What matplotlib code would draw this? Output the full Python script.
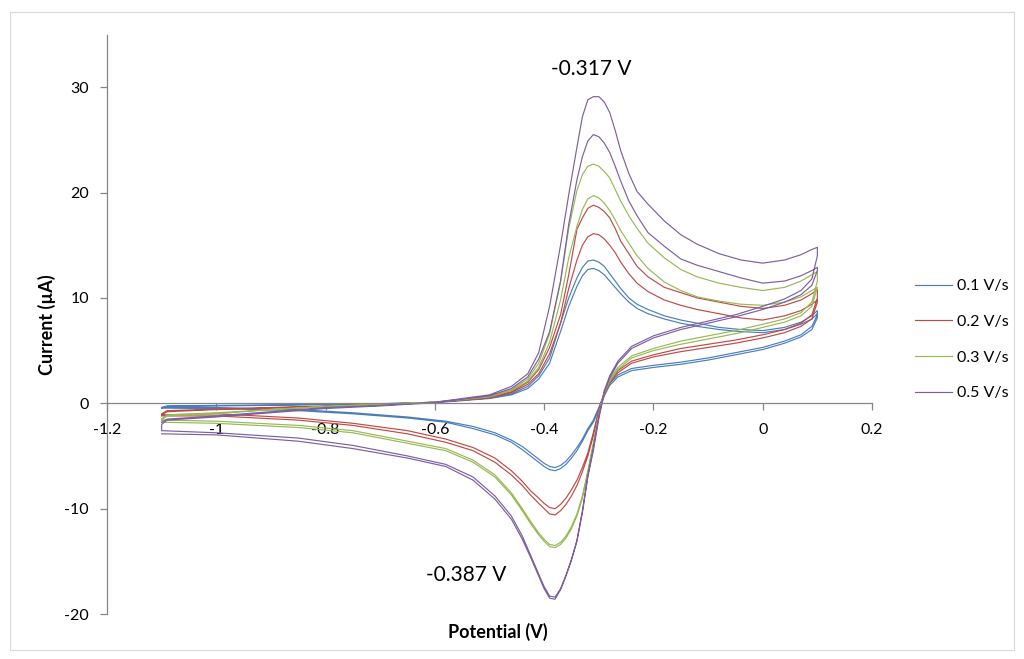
import matplotlib
matplotlib.use("Agg")
import matplotlib.pyplot as plt
from matplotlib.patches import Rectangle
from matplotlib.ticker import FixedLocator, FuncFormatter

plt.rcParams['font.family'] = ['Lato', 'DejaVu Sans']
plt.rcParams['axes.unicode_minus'] = False

# Potential grids (V) for the anodic (forward) and cathodic (reverse) sweeps
E_fwd = [-1.1, -1.09, -1.0, -0.9, -0.8, -0.7, -0.6, -0.5, -0.46, -0.43, -0.41, -0.39,
         -0.37, -0.355, -0.34, -0.33, -0.32, -0.31, -0.30, -0.29, -0.28, -0.27, -0.26,
         -0.245, -0.23, -0.21, -0.18, -0.15, -0.12, -0.08, -0.04, 0.0, 0.04, 0.07, 0.09, 0.1]
E_rev = [0.1, 0.09, 0.07, 0.04, 0.0, -0.05, -0.1, -0.15, -0.2, -0.24, -0.265, -0.28,
         -0.29, -0.30, -0.31, -0.32, -0.33, -0.34, -0.35, -0.36, -0.37, -0.38, -0.39,
         -0.40, -0.41, -0.425, -0.44, -0.46, -0.49, -0.53, -0.58, -0.65, -0.75, -0.85, -1.0, -1.1]

# Current (uA), two cycles per scan rate
fwd_01_a = [-0.4, -0.25, -0.2, -0.15, -0.1, -0.05, 0.1, 0.5, 0.9, 1.6, 2.6, 4.3, 7.6, 10.0, 11.9,
            12.9, 13.5, 13.6, 13.4, 13.0, 12.3, 11.6, 10.9, 10.0, 9.4, 8.9, 8.3, 7.9, 7.6, 7.2,
            7.0, 6.9, 7.2, 7.7, 8.3, 8.8]
rev_01_a = [8.4, 7.3, 6.5, 5.9, 5.3, 4.8, 4.3, 3.9, 3.6, 3.3, 2.7, 1.9, 0.9, -0.4, -1.6, -2.4,
            -3.4, -4.2, -4.9, -5.5, -5.9, -6.1, -6.0, -5.7, -5.3, -4.7, -4.1, -3.5, -2.8, -2.2,
            -1.7, -1.3, -0.9, -0.6, -0.4, -0.4]
fwd_01_b = [-0.45, -0.3, -0.25, -0.2, -0.12, -0.05, 0.05, 0.45, 0.8, 1.4, 2.3, 3.8, 6.8, 9.2, 11.1,
            12.1, 12.7, 12.8, 12.6, 12.2, 11.6, 11.0, 10.4, 9.6, 9.0, 8.5, 8.0, 7.6, 7.3, 7.0,
            6.8, 6.7, 7.0, 7.5, 8.0, 8.5]
rev_01_b = [8.1, 7.0, 6.3, 5.7, 5.1, 4.6, 4.1, 3.7, 3.4, 3.1, 2.5, 1.7, 0.7, -0.6, -1.8, -2.6,
            -3.6, -4.5, -5.2, -5.8, -6.2, -6.4, -6.3, -6.0, -5.6, -5.0, -4.4, -3.7, -3.0, -2.4,
            -1.8, -1.4, -1.0, -0.7, -0.5, -0.45]

fwd_02_a = [-1.1, -0.8, -0.6, -0.45, -0.3, -0.1, 0.1, 0.6, 1.1, 2.0, 3.2, 5.3, 8.4, 12.2, 16.5,
            17.6, 18.5, 18.8, 18.6, 18.2, 17.6, 16.6, 15.4, 14.2, 13.0, 12.0, 11.0, 10.5, 10.0,
            9.6, 9.2, 9.0, 9.3, 9.8, 10.4, 10.8]
rev_02_a = [10.0, 8.4, 7.6, 7.0, 6.5, 6.0, 5.6, 5.2, 4.6, 4.0, 3.1, 2.1, 1.0, -0.6, -2.8, -4.7,
            -6.1, -7.3, -8.2, -9.0, -9.6, -10.0, -9.9, -9.5, -9.0, -8.3, -7.4, -6.4, -5.2, -4.2,
            -3.4, -2.6, -1.9, -1.4, -1.0, -1.1]
fwd_02_b = [-1.0, -0.7, -0.55, -0.4, -0.25, -0.1, 0.1, 0.5, 1.0, 1.8, 2.8, 4.7, 7.6, 10.9, 13.6,
            15.0, 15.8, 16.1, 16.0, 15.6, 15.0, 14.3, 13.4, 12.3, 11.4, 10.6, 9.8, 9.3, 8.9, 8.5,
            8.1, 7.9, 8.3, 8.8, 9.4, 9.8]
rev_02_b = [9.6, 8.0, 7.3, 6.7, 6.2, 5.7, 5.3, 4.9, 4.4, 3.8, 2.9, 1.9, 0.8, -0.9, -3.1, -5.0,
            -6.5, -7.8, -8.8, -9.6, -10.2, -10.6, -10.5, -10.0, -9.5, -8.7, -7.8, -6.8, -5.6,
            -4.5, -3.7, -2.9, -2.1, -1.6, -1.2, -1.2]

fwd_03_a = [-1.6, -1.2, -1.0, -0.6, -0.3, -0.1, 0.1, 0.7, 1.3, 2.3, 3.8, 6.6, 11.5, 16.6, 20.2,
            21.7, 22.5, 22.7, 22.5, 22.0, 21.4, 20.3, 19.2, 17.8, 16.6, 15.2, 13.8, 12.7, 12.0,
            11.4, 11.0, 10.7, 11.0, 11.6, 12.2, 12.5]
rev_03_a = [11.6, 9.6, 8.6, 8.0, 7.5, 6.9, 6.4, 5.9, 5.2, 4.5, 3.4, 2.3, 1.1, -1.0, -3.8, -6.4,
            -8.8, -10.5, -11.7, -12.6, -13.2, -13.5, -13.4, -12.9, -12.3, -11.2, -10.0, -8.5,
            -6.8, -5.4, -4.3, -3.6, -2.6, -2.1, -1.7, -1.6]
fwd_03_b = [-1.5, -1.1, -0.9, -0.6, -0.3, -0.1, 0.1, 0.6, 1.2, 2.1, 3.4, 5.8, 9.8, 13.8, 16.8,
            18.4, 19.4, 19.7, 19.5, 19.0, 18.3, 17.4, 16.4, 15.2, 14.0, 12.8, 11.5, 10.7, 10.1,
            9.7, 9.4, 9.3, 9.6, 10.1, 10.7, 11.0]
rev_03_b = [11.0, 9.2, 8.3, 7.7, 7.2, 6.6, 6.1, 5.6, 5.0, 4.3, 3.2, 2.1, 0.9, -1.2, -4.0, -6.6,
            -9.0, -10.7, -11.9, -12.8, -13.4, -13.7, -13.6, -13.1, -12.5, -11.4, -10.2, -8.7,
            -7.0, -5.6, -4.5, -3.8, -2.8, -2.3, -1.9, -1.8]

fwd_05_a = [-1.8, -1.5, -1.2, -0.8, -0.4, -0.2, 0.1, 0.8, 1.6, 2.8, 4.8, 9.2, 15.0, 19.8, 24.3,
            27.2, 28.8, 29.1, 29.1, 28.6, 27.6, 25.9, 24.0, 21.8, 20.1, 18.9, 17.3, 16.0, 15.1,
            14.2, 13.6, 13.3, 13.6, 14.1, 14.6, 14.8]
rev_05_a = [14.0, 11.8, 10.7, 9.9, 9.2, 8.4, 7.8, 7.2, 6.4, 5.4, 4.0, 2.6, 1.2, -1.2, -4.2, -6.8,
            -10.2, -13.0, -14.8, -16.3, -17.6, -18.4, -18.3, -17.4, -16.2, -14.4, -12.6, -10.7,
            -8.8, -7.0, -5.8, -5.0, -4.0, -3.3, -2.8, -2.6]
fwd_05_b = [-2.0, -1.6, -1.3, -0.9, -0.5, -0.25, 0.05, 0.7, 1.4, 2.5, 4.2, 6.8, 11.6, 17.0, 21.2,
            23.4, 24.9, 25.5, 25.3, 24.7, 23.8, 22.5, 21.1, 19.2, 17.8, 16.2, 14.9, 13.7, 13.1,
            12.5, 11.9, 11.4, 11.6, 12.1, 12.6, 12.9]
rev_05_b = [12.6, 11.2, 10.3, 9.6, 8.9, 8.2, 7.6, 7.0, 6.2, 5.2, 3.8, 2.4, 1.0, -1.5, -4.5, -7.0,
            -10.4, -13.1, -14.9, -16.4, -17.7, -18.6, -18.5, -17.6, -16.4, -14.6, -12.9, -11.0,
            -9.1, -7.3, -6.0, -5.2, -4.3, -3.6, -3.0, -2.9]

scan_rates = ['0.1 V/s', '0.2 V/s', '0.3 V/s', '0.5 V/s']
cycles = [
    (fwd_01_a, rev_01_a, fwd_01_b, rev_01_b),
    (fwd_02_a, rev_02_a, fwd_02_b, rev_02_b),
    (fwd_03_a, rev_03_a, fwd_03_b, rev_03_b),
    (fwd_05_a, rev_05_a, fwd_05_b, rev_05_b),
]
colors = ['#4A7EBB', '#BE4B48', '#98B954', '#7D60A0']

x_ticks = [-1.2, -1.0, -0.8, -0.6, -0.4, -0.2, 0.0, 0.2]
y_ticks = [-20, -10, 0, 10, 20, 30]

peak_ox = (-0.317, '-0.317 V')
peak_red = (-0.387, '-0.387 V')

W, H = 1024, 659
fig = plt.figure(figsize=(W / 100, H / 100), dpi=100, facecolor='white')

# chart-area frame
fig.patches.append(Rectangle((10 / W, 9 / H), 1004 / W, 638 / H, transform=fig.transFigure,
                             fill=False, edgecolor='#d9d9d9', linewidth=0.8))

ax = fig.add_axes([107 / W, 45 / H, 765 / W, 579.5 / H])
ax.set_xlim(-1.2, 0.2)
ax.set_ylim(-20, 35)

for label, color, (fa, ra, fb, rb) in zip(scan_rates, colors, cycles):
    xs = E_fwd + E_rev + E_fwd + E_rev
    ys = fa + ra + fb + rb
    ax.plot(xs, ys, color=color, linewidth=0.85, label=label)

axis_gray = '#868686'
for side in ('top', 'right'):
    ax.spines[side].set_visible(False)
ax.spines['left'].set_color(axis_gray)
ax.spines['left'].set_linewidth(0.9)
ax.spines['bottom'].set_color(axis_gray)
ax.spines['bottom'].set_linewidth(0.9)
ax.spines['bottom'].set_position(('data', 0))

ax.xaxis.set_major_locator(FixedLocator(x_ticks))
ax.xaxis.set_major_formatter(FuncFormatter(lambda v, p: f"{round(v, 1):g}"))
ax.yaxis.set_major_locator(FixedLocator(y_ticks))
ax.yaxis.set_major_formatter(FuncFormatter(lambda v, p: f"{v:g}"))
ax.tick_params(axis='x', direction='out', length=5, width=0.9, color=axis_gray,
               labelsize=11.5, pad=9, labelcolor='#000000')
ax.tick_params(axis='y', direction='out', length=5, width=0.9, color=axis_gray,
               labelsize=11.5, pad=8, labelcolor='#000000')

ax.text(-0.313, 31.7, peak_ox[1], fontsize=15, ha='center', va='center')
ax.text(-0.542, -16.3, peak_red[1], fontsize=15, ha='center', va='center')

fig.text(47 / W, 1 - 325 / H, 'Current (µA)', rotation=90, ha='center', va='center',
         fontsize=13, fontweight='bold')
fig.text(498 / W, 1 - 632 / H, 'Potential (V)', ha='center', va='center',
         fontsize=13, fontweight='bold')

fig.legend(loc='upper left', bbox_to_anchor=(915 / W, 1 - 279 / H), frameon=False,
           fontsize=11.5, handlelength=2.3, handletextpad=0.35, labelspacing=1.35,
           borderpad=0, borderaxespad=0)

fig.savefig('out.png', dpi=100, facecolor='white')
